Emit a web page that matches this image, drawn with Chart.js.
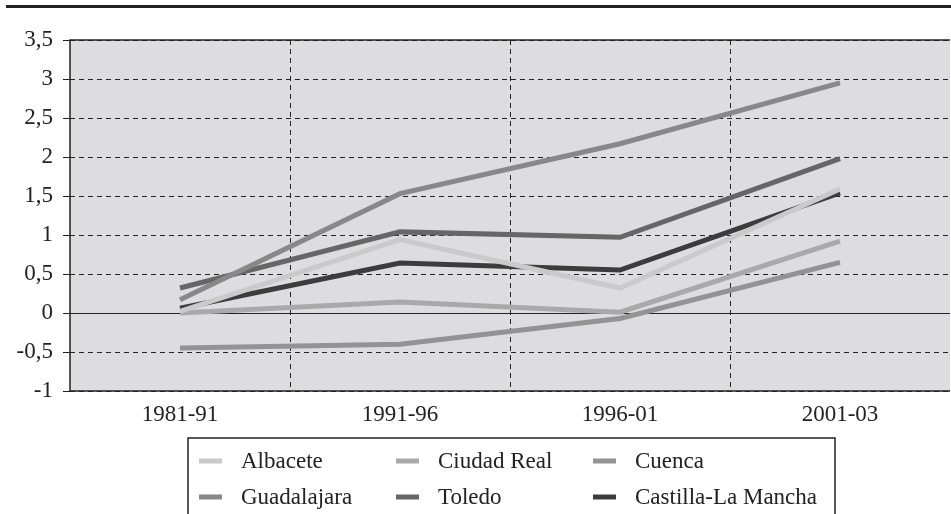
<!DOCTYPE html>
<html>
<head>
<meta charset="utf-8">
<script src="https://cdn.jsdelivr.net/npm/chart.js@4.4.0/dist/chart.umd.min.js"></script>
<style>
  html, body { margin: 0; padding: 0; background: #fff; }
  #wrap { width: 951px; height: 514px; position: relative; }
</style>
</head>
<body>
<div id="wrap"><canvas id="growthChart" width="951" height="514"></canvas></div>
<script>
var periods = ["1981-91", "1991-96", "1996-01", "2001-03"];

var albacete    = [0.02, 0.94, 0.32, 1.59];
var ciudadReal  = [0.00, 0.14, 0.01, 0.92];
var cuenca      = [-0.45, -0.40, -0.07, 0.65];
var guadalajara = [0.17, 1.53, 2.17, 2.95];
var toledo      = [0.32, 1.04, 0.97, 1.98];
var castilla    = [0.06, 0.64, 0.55, 1.54];

var yMin = -1, yMax = 3.5, yStep = 0.5;

var ink = "#222222";

function series(label, values, color) {
  return {
    label: label,
    data: values,
    borderColor: color,
    backgroundColor: color,
    borderWidth: 5,
    borderCapStyle: "butt",
    pointRadius: 0,
    pointHoverRadius: 0,
    tension: 0,
    fill: false
  };
}

// grey plot area, top rule, zero line and solid frame
var framePlugin = {
  id: "frame",
  beforeDraw: function (chart) {
    var a = chart.chartArea, ctx = chart.ctx;
    ctx.save();
    ctx.fillStyle = "#dddddf";
    ctx.fillRect(a.left, a.top, a.right - a.left, a.bottom - a.top);
    ctx.fillStyle = ink;
    ctx.fillRect(6, 5, 945, 3);
    ctx.restore();
  },
  beforeDatasetsDraw: function (chart) {
    var a = chart.chartArea, ctx = chart.ctx;
    var y0 = chart.scales.y.getPixelForValue(0);
    ctx.save();
    ctx.setLineDash([]);
    ctx.strokeStyle = ink;
    ctx.lineWidth = 1;
    ctx.beginPath();
    ctx.moveTo(a.left, Math.round(y0) + 0.5);
    ctx.lineTo(a.right, Math.round(y0) + 0.5);
    ctx.stroke();
    ctx.lineWidth = 1.5;
    ctx.beginPath();
    ctx.moveTo(a.right, a.top);
    ctx.lineTo(a.left, a.top);
    ctx.lineTo(a.left, a.bottom);
    ctx.lineTo(a.right, a.bottom);
    ctx.stroke();
    ctx.restore();
  }
};

// boxed legend, three columns, drawn under the axis labels
var legendPlugin = {
  id: "boxLegend",
  afterDraw: function (chart) {
    var ctx = chart.ctx;
    var sets = chart.data.datasets;
    ctx.save();
    ctx.strokeStyle = ink;
    ctx.lineWidth = 1.5;
    ctx.beginPath();
    ctx.moveTo(188, 520);
    ctx.lineTo(188, 438);
    ctx.lineTo(835, 438);
    ctx.lineTo(835, 520);
    ctx.stroke();
    ctx.font = "23px 'Liberation Serif'";
    ctx.textBaseline = "middle";
    for (var i = 0; i < sets.length; i++) {
      var col = i % 3, row = Math.floor(i / 3);
      var x = 199 + col * 197;
      var y = 461 + row * 36;
      ctx.fillStyle = sets[i].borderColor;
      ctx.fillRect(x, y - 2.5, 23, 5);
      ctx.fillStyle = ink;
      ctx.fillText(sets[i].label, x + 42, y + 1);
    }
    ctx.restore();
  }
};

Chart.defaults.font.family = "'Liberation Serif', 'Times New Roman', serif";
Chart.defaults.font.size = 23;
Chart.defaults.color = ink;

new Chart(document.getElementById("growthChart"), {
  type: "line",
  data: {
    labels: periods,
    datasets: [
      series("Albacete", albacete, "#cacaca"),
      series("Ciudad Real", ciudadReal, "#a9a9a9"),
      series("Cuenca", cuenca, "#939393"),
      series("Guadalajara", guadalajara, "#888888"),
      series("Toledo", toledo, "#666666"),
      series("Castilla-La Mancha", castilla, "#3c3c3c")
    ]
  },
  options: {
    responsive: false,
    animation: false,
    layout: { padding: { left: 0, top: 40, right: 1, bottom: 0 } },
    plugins: {
      legend: { display: false },
      tooltip: { enabled: false }
    },
    scales: {
      x: {
        offset: true,
        afterFit: function (scale) { scale.height = 123; },
        grid: {
          offset: true,
          drawTicks: false,
          color: function (c) {
            // only the three lines between categories are drawn
            return (c.type !== "tick" || c.index === 0) ? "rgba(0,0,0,0)" : ink;
          },
          lineWidth: 1
        },
        border: { display: false, dash: [5, 4] },
        ticks: { padding: 10, color: ink }
      },
      y: {
        min: yMin,
        max: yMax,
        afterFit: function (scale) { scale.width = 70; },
        grid: {
          color: ink,
          lineWidth: 1,
          tickLength: 7,
          tickColor: ink,
          tickBorderDash: []
        },
        border: { display: false, dash: [5, 4] },
        ticks: {
          stepSize: yStep,
          padding: 10,
          color: ink,
          callback: function (v) { return String(v).replace(".", ","); }
        }
      }
    }
  },
  plugins: [framePlugin, legendPlugin]
});
</script>
</body>
</html>
